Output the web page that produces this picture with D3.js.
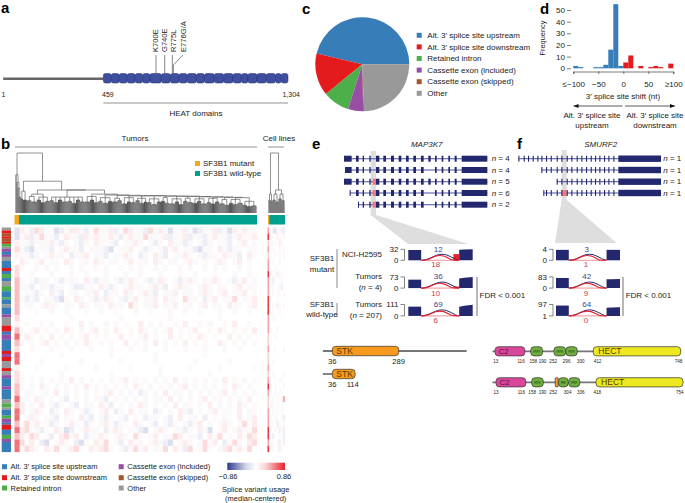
<!DOCTYPE html>
<html><head><meta charset="utf-8">
<script src="https://cdn.jsdelivr.net/npm/d3@7"></script>
<style>html,body{margin:0;padding:0;background:#fff}svg{display:block}text{font-family:"Liberation Sans",Arial,sans-serif;fill:#222}</style>
</head><body><svg id="c" width="685" height="503"></svg>
<script>
// ---------- data ----------
const heatDomainEnds=[496,532,569,605,639,672,725,766,806,843,885,922,967,1010,1053,1091,1121,1162,1205,1247,1273,1304];
const mutations=["K700E","G740E","R775L","E776G/A"];
const mutationPositions=[700,740,775,776];
const pieCategories=["Alt. 3′ splice site upstream","Alt. 3′ splice site downstream","Retained intron","Cassette exon (included)","Cassette exon (skipped)","Other"];
const pieValues=[46.3,14.6,9.2,5.2,0.3,24.4];
const catColors=["#377EB8","#E41A1C","#4DAF4A","#984EA3","#A65628","#999999"];
const shiftBlueBins=[-100,-90,-60,-50,-40,-30,-20,-10];
const shiftBlueCounts=[2,1,1,1,3,16,55,2];
const shiftRedBins=[0,10,30,50,60,70,90];
const shiftRedCounts=[5,11,2,1,2,1,4];
const shiftTicks=[-100,-50,0,50,100];
const shiftTickLabels=["≤−100","−50","0","50","≥100"];
const freqTicks=[0,10,20,30,40,50];
const rowCats=[5,3,1,3,4,3,1,2,4,3,1,2,2,3,5,2,3,3,0,3,3,2,5,4,0,7,1,3,0,3,2,4,0,3,5,5,2,5,0,6,2,2,0,5,5,3,0,7,3,3,5,8,1,6,0,3,3,5,0,11,1,3,3,3,1,4,5,7,1,3,5,4,3,3,0,8,3,3,0,10,5,4,2,4,5,2,0,6,2,3,3,4,0,2,1,5,0,5,2,4,3,3,0,10];
const heatRows=[
"r+bRr-+Bb+rr-b+R+-rb+Rr+-bR+r-B-+r-Bb-+rb-Br+r-+",
"+rb-R+-b+r+-br+r-+r-b+r-+R--+rb-+rb+-b+r+-b-r+-r",
"+-b+-+r-b+.-b+.r-+-b.+-r+.-b+.r-+b-.+b-.+-b.+r.-",
"-bB-+-b.+r-+b.-+-bB.+-r.+b-.-b+r.-+bB-+.r-b-+.-+",
"+-b-.+r+-.b-+r.-+b.-+r-.b+.r-b.+-r+.-b-+.r-+b.r+",
"r+.+r.-+.r+.+-.r+.-+.+r.+-.r+.+-.+r-.+.+r-.+r.+.",
"+..+.-.+..-.+..+.-..+.-.+..-.+..+.-..+.-.+..-.+.",
"..+...-...+..-...+...-..+...-...+..-...+...-..+.",
"+.-b-+.-b+-+.r-b+-.+b-r+.-b+r-.+b-r+.-+r+.-b+r.-",
"+-b.-+b-+.-bb-+.r-b+.-r+-.+r-b.+r-+.-r+.-+.+r.-+",
".-+b+.r-b.+-.+-r.b-+.r-.+r-b.+-r.+-.+r-.+r.-+r.+",
"+b-b.+-bB+.r-.+b-r+.-b+r.+-r.r-+.R-+.b+r.-+R.-+r",
".+-.+r-+.-+.r+.-+.r+-.R+.-+r.-+r.+-.+r.-+.r-+.+r",
"...+..-..+...+..-..+...-..+...+..-..+...+..-..+.",
"..........+.........-.........+.........-........",
".+..+.-..+..r.+..-.+.+..r.-.+..+.r..+.-..+.r..+.",
"+.+r.+.+.r+.-.+r.+.r..+.r+.-.+r.+.+r..+.r+.+.+.r",
".r+.+.r.+.+.+r.+.+..r.+.+r.+..r.+.+.r+.+..r.+.+.",
"+.+.+r.+.-.+.r+.+.+..r.+.-.r.+.+.r.+.+..r+.+.-.+",
"..+...+...+...-...+...+..-...+...+...+...-..+...",
"........+.........+........-.........+..........",
"....+.......-.......+......+.......-......+.....",
"...+.....+.....-......+.....+.....-.....+......+",
"........-.........+.........-.........+.........",
"+.+.-.+.+.r.-.+.+.-.+r.+.-.+.+.r.-.+.+.-.r.+.-.+",
"+.-.r+.-.+.-.r.+.-.+.-.r+.-.+.-.+r.-.+.-.+.r-.+.",
".-+.+-.r.-.+.-.+.-r.+.-.b+.-.r.-+.-.+.-.+r.-.+.-",
"+-.r-.+.-b.+.-.+-b.+.-.+.-.+-.r.-.+.-r.+-.+.-.r.",
"r.-.r.-b+.-b.+-.r-b.+.-.r-.+.-.r.-+.-.r.-.+.r-.+",
"r.-r+.b-.r-.+b-.+r.b-.r.-+.b-.+.r-b.+.-r.+-.r.-+",
".+r-.+-b.-+.r-b.-b+.-b.+.b-+.-b.r.+-.b.+.-+.r.-r",
"+R+r.+b-.+r-.b+.-r.b-+.r-.+b.-b+.-b+r.-.+r-.+R.r",
"rR+-b+.r-Bb.+r+-.b+r-.+-bB.+r-.+-b+.r-B.+r.+r-+R",
"r+Rr.+b.rR+r.b-+r+.+r-.R+.+r.-+Rr.+-b.r+R.+.r+Rr",
"R+r.bB.+r+.bB+.r+R.+b.r+-.+r-bB.+r+.-R+r.b+R+.rR",
"+Rr+.r+R.-rR+.r+rR+.+b-R+r.-+R.r+bR.+R+.-rR+r+R."
];
const mutantColumn="bb+r+.rrRRRRRRr+RSRrSS+rrRRSRSSRSRSS";
const cellStrip="RSrRrRRSRRRSSSRRRrrRrrRrRSRrrRRRSSRS";
const cellRows=[
"-bB-+bb","+-.r+.-","+-+.r+.",".+..+.+","+.+.-.+",".+..-..","..+....","-+.r-+.","+b-.+-.","+-.+-b.",
".+.-+.+","+..+...",".+.r+.+",".+..+..",".+-..+.",".......","+..+...","..-....",".......","..+...-",
".......",".+.....",".......",".+....+","-.+.-+.","+.-.+.-","+.-.+-.",".-.+.-S","-+.-.+.",".-.+.-.",
"+.-+.-b","+-.b+.-","-.+.r-b","+b.+-.b","-+.-b.r","+-.+r-."];
const heatLegendStops=[-0.86,-0.3,0,0.3,0.86];
const mutantTree=[0.63,1,[0.5,1,[0.4,1,[0.25,2]]]];
const earlyA=[0.35,[0.22,2],[0.2,4]];
const earlyC=[0.3,[0.26,[0.19,4],[0.17,5]],[0.25,[0.2,4],[0.16,4],[0.18,4]]];
const chainEntries=[
[0.37,0.25,[0.19,4],[0.16,4],[0.2,4],[0.17,5],[0.18,4],[0.15,4],[0.2,4],[0.17,4]],
[0.3,0.26,[0.17,5],[0.2,4],[0.16,4]],
[0.285,0.24,[0.18,4],[0.15,5],[0.18,4]],
[0.28,0.23,[0.17,5],[0.19,4]],
[0.27,0.24,[0.14,5],[0.17,4],[0.16,4]],
[0.275,0.23,[0.19,4],[0.15,4],[0.17,3]],
[0.27,0.22,[0.16,4],[0.13,5],[0.17,4]],
[0.265,0.24,[0.18,4],[0.15,4]],
[0.265,0.22,[0.14,5],[0.17,4],[0.13,4]],
[0.26,0.23,[0.18,4],[0.16,5]],
[0.255,0.22,[0.15,4],[0.18,4],[0.14,5]],
[0.25,0.23,[0.16,4],[0.14,4],[0.17,4]],
[0.245,0.21,[0.14,5],[0.12,4]],
[0.24,0.21,[0.15,4],[0.13,4],[0.15,5]],
[0.22,0.18,[0.12,4],[0.1,4],[0.11,5]]
];
const cellTree=[1.0,[0.3,[0.2,2],[0.18,2]],[0.37,[0.3,[0.2,3],[0.17,3]],[0.3,[0.22,3],[0.19,3]]]];
// MAP3K7 transcripts, exon ranges in genomic plot units
const mapExons=[
[[72,95],[108,116],[128,132],[148,152],[168,178],[190,198],[213,222],[236,244],[258,266],[280,288],[303,311],[325,332],[345,350],[365,370],[385,390],[404,410],[425,502]],
[[75,95],[108,116],[128,132],[148,152],[168,178],[190,198],[213,222],[236,244],[258,266],[280,288],[303,311],[345,350],[365,370],[385,390],[404,410],[425,502]],
[[72,95],[108,116],[128,132],[148,152],[168,178],[190,198],[213,222],[236,244],[258,266],[280,288],[303,311],[325,332],[345,350],[365,370],[385,390],[404,410],[425,502]],
[[89,92],[108,116],[128,132],[148,152],[168,178],[190,198],[213,222],[236,244],[258,266],[280,288],[303,311],[345,350],[365,370],[385,390],[404,410],[425,502]],
[[114,117],[128,132],[148,152],[168,178],[190,198],[213,222],[236,244],[258,266],[280,288],[303,311],[345,350],[365,370],[385,390],[404,410],[425,502]]];
const mapLabels=["n = 4","n = 4","n = 5","n = 6","n = 2"];
const smurfExonStarts=[55,71,84,98,112,124,138,152,170,184,200,214,230,244,258,272,285,298,312,325,340];
const smurfTranscriptStart=[55,124,170,130];
const smurfBigExon=[355,483];
const smurfLabels=["n = 1","n = 1","n = 1","n = 1"];
const mapSashimi=[
{top:"32",bot:"0",max:32,left:30,right:[31,32],extra:18,up:"12",down:"18"},
{top:"73",bot:"0",max:73,left:55,right:[62,72],extra:10,up:"36",down:"10"},
{top:"111",bot:"0",max:111,left:90,right:[88,108],extra:5,up:"69",down:"6"}];
const smurfSashimi=[
{top:"4",bot:"0",max:4,left:3.8,right:[3.8,3.8],extra:0,up:"3",down:"1"},
{top:"83",bot:"0",max:83,left:75,right:[65,68],extra:0,up:"42",down:"9"},
{top:"97",bot:"1",max:97,left:88,right:[70,74],extra:0,up:"64",down:"0"}];
const stkRows=[{line:[0,548],dom:[[36,289,"STK"]],labels:[["36",36],["289",289]]},
{line:[0,36],dom:[[36,123,"STK"]],labels:[["36",36],["114",114]]}];
const smurfRow1={dom:[[13,131,"C2"],[154,201,"WW"],[246,292,"WW"],[293,338,"WW"],[401,747,"HECT"]],labels:[["13",16],["116",116],["158",164],["190",201],["252",243],["296",296],["330",352],["412",418],["748",738]]};
const smurfRow2={dom:[[17,135,"C2"],[158,204,"WW"],[251,263,"x"],[264,302,"WW"],[304,348,"WW"],[412,756,"HECT"]],labels:[["13",17],["116",117],["158",160],["190",201],["252",243],["304",300],["336",352],["418",417],["754",743]]};

// ---------- drawing ----------
const svg=d3.select("#c");
const F="Liberation Sans";
function T(x,y,s,o={}){const t=svg.append("text").attr("x",x).attr("y",y).attr("font-size",o.size||8).attr("text-anchor",o.anchor||"start").text(s);
 if(o.weight)t.attr("font-weight",o.weight);if(o.fill)t.style("fill",o.fill);if(o.italic)t.attr("font-style","italic");if(o.rot!=null)t.attr("transform",`rotate(${o.rot},${x},${y})`);return t;}
function L(x1,y1,x2,y2,c="#555",w=0.8){svg.append("line").attr("x1",x1).attr("y1",y1).attr("x2",x2).attr("y2",y2).attr("stroke",c).attr("stroke-width",w);}
function Box(x,y,w,h,c){svg.append("rect").attr("x",x).attr("y",y).attr("width",w).attr("height",h).attr("fill",c);}
[["a",1,13],["b",1,149],["c",302,14],["d",540,14],["e",312,149],["f",517,149]].forEach(d=>T(d[1],d[2],d[0],{size:15,weight:"bold",fill:"#000"}));

// panel a
const aaX=d3.scaleLinear().domain([459,1304]).range([103.3,288]);
L(aaX(1),78.7,aaX(459),78.7,"#666",2.6);
let prev=459;heatDomainEnds.forEach(e=>{svg.append("rect").attr("x",aaX(prev)).attr("y",73.5).attr("width",aaX(e)-aaX(prev)).attr("height",9.5).attr("rx",2.2).attr("fill","#3F4FA0").attr("stroke","#232a6b").attr("stroke-width",.5);prev=e;});
mutations.forEach((m,i)=>{const x=aaX(mutationPositions[i]);
 if(i<3)L(x,55,x,73.5,"#555",.7);
 else{const g=x+.8;L(g,73.5,g,65,"#555",.7);L(g,65,183,55,"#555",.7);}
 const lx=[155.5,164.5,173.5,183.5][i]+2.7;
 T(lx,52,m,{rot:-90,size:7.6});});
T(1.5,97,"1",{size:7});T(102,97,"459",{size:7});T(300,97,"1,304",{size:7,anchor:"end"});
L(aaX(459),103,aaX(1304),103,"#777",.8);
T(196,116,"HEAT domains",{anchor:"middle"});

// panel b headers
T(135,141,"Tumors",{anchor:"middle"});L(15,147,257,147,"#888",.9);
T(279,141,"Cell lines",{anchor:"middle"});L(268,147,284,147,"#888",.9);
// dendrogram
const asNode=a=>{
 if(typeof a==="number")return {h:0,leaf:a===1,children:a===1?null:Array.from({length:a},()=>({h:0}))};
 if(a.length===2&&typeof a[1]==="number"&&a[1]>1&&Number.isInteger(a[1]))return {h:a[0],children:Array.from({length:a[1]},()=>({h:0}))};
 return {h:a[0],children:a.slice(1).map(asNode)};};
let rest=null;
for(let i=chainEntries.length-1;i>=0;i--){const e=chainEntries[i];
 const cl={h:e[1],children:e.slice(2).map(asNode)};
 rest=rest?{h:e[0],children:[cl,rest]}:cl;}
const tumorTree={h:1.0,children:[asNode(mutantTree),{h:0.52,children:[asNode(earlyA),{h:0.37,children:[asNode(earlyC),rest]}]}]};
const yH=d3.scaleLinear().domain([0,0.2,1]).range([213,200,153]);
function drawTree(tree,x0,x1){const root=d3.hierarchy(tree);d3.cluster().separation(()=>1).size([x1-x0,1])(root);
 const g=svg.append("g").attr("transform",`translate(${x0},0)`);
 let leaves="";let links="";
 root.descendants().forEach(n=>{if(!n.children)return;const y=yH(n.data.h);const xs=n.children.map(c=>c.x);
  links+=`M${d3.min(xs)},${y}H${d3.max(xs)}`;
  n.children.forEach(c=>{const p=`M${c.x},${y}V${yH(c.data.h)}`;if(c.children)links+=p;else leaves+=p;});});
 g.append("path").attr("d",leaves).attr("stroke","#4a4a4a").attr("stroke-width",.95).attr("fill","none");
 g.append("path").attr("d",links).attr("stroke","#555").attr("stroke-width",.65).attr("fill","none");}
drawTree(tumorTree,15.5,256.5);drawTree(asNode(cellTree),268.5,284.5);
// sample bars
Box(14.5,215,4.5,9.5,"#F5A623");Box(19,215,238,9.5,"#00A08F");Box(268,215,1.2,9.5,"#F5A623");Box(269.2,215,15.8,9.5,"#00A08F");
Box(195,161,5,5,"#F5A623");T(203,166,"SF3B1 mutant");Box(195,171,5,5,"#00A08F");T(203,176,"SF3B1 wild-type");
// heat
const heatColor=d3.scaleLinear().domain([-0.86,0,0.86]).range(["#2B3990","#ffffff","#E8202A"]).clamp(true);
const cellVal={".":0,"+":0.025,"r":0.07,"R":0.14,"S":0.3,"-":-0.025,"b":-0.07,"B":-0.14};
const yRow=d3.scaleBand().domain(d3.range(heatRows.length)).range([227.5,452]);
const xCol=d3.scaleBand().domain(d3.range(heatRows[0].length)).range([19.5,257]);
const gh=svg.append("g");
function cells(rows,xs,k=1){rows.forEach((r,i)=>{Array.from(r).forEach((c,j)=>{const v=cellVal[c];if(!v)return;
 gh.append("rect").attr("x",xs(j)).attr("y",yRow(i)).attr("width",xs.bandwidth()+.1).attr("height",yRow.bandwidth()+.1).attr("fill",heatColor(v*k));});});}
cells(heatRows,xCol);
cells(Array.from(mutantColumn),d3.scaleBand().domain([0]).range([14.5,19.5]),1.8);
cells(Array.from(cellStrip),d3.scaleBand().domain([0]).range([267.5,269]),2.6);
cells(cellRows,d3.scaleBand().domain(d3.range(cellRows[0].length)).range([270,285]));
// row annotations
const total=d3.sum(rowCats.filter((d,i)=>i%2));
const yAnn=d3.scaleLinear().domain([0,total]).range([227.5,452]);
let acc=0;for(let i=0;i<rowCats.length;i+=2){const c=rowCats[i],n=rowCats[i+1];
 svg.append("rect").attr("x",1.7).attr("width",9.3).attr("y",yAnn(acc)).attr("height",yAnn(n)-yAnn(0)+.1).attr("fill",catColors[c]);acc+=n;}
// legends bottom
[[0,2,466.7],[1,2,477.7],[2,2,488],[3,118.7,466.7],[4,118.7,477.7],[5,118.7,488]].forEach(d=>{Box(d[1],d[2]-2.5,5,5,catColors[d[0]]);T(d[1]+8.6,d[2]+2.6,pieCategories[d[0]],{size:7.5});});
const grad=svg.append("defs").append("linearGradient").attr("id","hg");
heatLegendStops.forEach(v=>grad.append("stop").attr("offset",(v+0.86)/1.72).attr("stop-color",v===-0.3||v===0.3?heatColor(v*0.6):heatColor(v)));
Box(227.3,462.7,57.7,7.3,"url(#hg)");
T(228,479,"−0.86",{anchor:"middle",size:7.5});T(284,479,"0.86",{anchor:"middle",size:7.5});
T(255.7,492,"Splice variant usage",{anchor:"middle",size:7.5});T(255.7,501,"(median-centered)",{anchor:"middle",size:7.5});

// panel c
const pie=d3.pie().sort(null).startAngle(Math.PI/2).endAngle(Math.PI/2-2*Math.PI);
const arc=d3.arc().innerRadius(0).outerRadius(47);
const gp=svg.append("g").attr("transform","translate(362.3,64.3)");
gp.selectAll("path").data(pie(pieValues)).join("path").attr("d",arc).attr("fill",(d,i)=>catColors[i]);
pieCategories.forEach((c,i)=>{const y=35.3+i*11.6;Box(416.7,y-2.5,5,5,catColors[i]);T(427.3,y+2.7,c);});

// panel d
const xS=d3.scaleLinear().domain([-100,100]).range([573.3,673.3]);
const yF=d3.scaleLinear().domain([0,50]).range([68.3,10]);
const bw=xS(10)-xS(0);
shiftBlueBins.forEach((b,i)=>Box(xS(b),yF(shiftBlueCounts[i]),bw,yF(0)-yF(shiftBlueCounts[i]),"#377EB8"));
shiftRedBins.forEach((b,i)=>Box(xS(b),yF(shiftRedCounts[i]),bw,yF(0)-yF(shiftRedCounts[i]),"#E41A1C"));
const ax=svg.append("g").attr("transform","translate(0,71.5)").call(d3.axisBottom(xS).tickValues(shiftTicks).tickFormat((d,i)=>shiftTickLabels[i]).tickSize(2.5).tickPadding(7));
const ay=svg.append("g").attr("transform","translate(571,0)").call(d3.axisLeft(yF).tickValues(freqTicks).tickSize(4).tickPadding(2));
ay.select(".domain").remove();
[ax,ay].forEach(g=>{g.selectAll("text").attr("font-size",8).style("font-family",F);g.selectAll("line,path").attr("stroke","#444").attr("stroke-width",.7);});
T(545,38,"Frequency",{rot:-90,anchor:"middle",size:7.4});
T(623,99,"3′ splice site shift (nt)",{anchor:"middle"});
function arrow(x1,x2,y){L(x1,y,x2,y,"#111",.7);const d=x2>x1?1:-1;svg.append("path").attr("d",`M${x2},${y}l${-d*5},-2v4z`).attr("fill","#111");}
arrow(622.5,573.5,106);arrow(625,675,106);
T(592,118,"Alt. 3′ splice site",{anchor:"middle"});T(592,128,"upstream",{anchor:"middle"});
T(655,118,"Alt. 3′ splice site",{anchor:"middle"});T(655,128,"downstream",{anchor:"middle"});

// panel e / f gene models
const xMap=d3.scaleLinear().domain([0,540]).range([320,500]);
const xSm=d3.scaleLinear().domain([0,555]).range([500,685]);
const funnel=d3.line();
svg.append("path").attr("d",funnel([[xMap(152),151],[xMap(168),151],[xMap(168),215],[468.5,244],[408,244],[xMap(152),215]])+"Z").attr("fill","#DEDEDE");
svg.append("path").attr("d",funnel([[xSm(185),150],[xSm(200),150],[xSm(200),200],[616.7,243],[555,243],[xSm(185),200]])+"Z").attr("fill","#DEDEDE");
T(426.7,147,"MAP3K7",{anchor:"middle",italic:true});T(600.7,147,"SMURF2",{anchor:"middle",italic:true});
const tY=[158.7,170,181.7,193,204.7];
const navy="#23276E";
mapExons.forEach((ex,i)=>{const y=tY[i];L(xMap(ex[0][0]),y,xMap(502),y,"#4B50A0",1.1);
 if(i>=2)Box(xMap(158),y-3,xMap(168)-xMap(158),6,"#F4787C");
 ex.forEach(e=>Box(xMap(e[0]),y-3,xMap(e[1])-xMap(e[0]),6,navy));
 T(491.7,y+2.6,mapLabels[i]).call(t=>{t.text(null);t.append("tspan").attr("font-style","italic").text("n");t.append("tspan").text(" = "+mapLabels[i].slice(4));});});
smurfTranscriptStart.forEach((s,i)=>{const y=tY[i];L(xSm(s),y,xSm(483),y,"#4B50A0",1);
 if(i==3)Box(xSm(186),y-3,xSm(200)-xSm(186),6,"#F4787C");
 smurfExonStarts.filter(e=>e>=s).forEach(e=>Box(xSm(e),y-3,xSm(e+3.3)-xSm(e),6,navy));
 if(i==3)Box(xSm(130),y-3,1,6,navy);
 Box(xSm(smurfBigExon[0]),y-3.2,xSm(smurfBigExon[1])-xSm(smurfBigExon[0]),6.4,navy);
 T(663.3,y+2.6,"").call(t=>{t.append("tspan").attr("font-style","italic").text("n");t.append("tspan").text(" = "+smurfLabels[i].slice(4));});});

// sashimi
const rowBands=[[249.3,260.3],[276.9,288.1],[304.5,315.9]];
const upY=[251.7,279.3,307],downY=[267.3,296,323.3];
function sashimi(rows,x0,x1,brX,midUp,midDown){
 const xp=d3.scaleLinear().domain([0,100]).range([x0,x1]);
 rows.forEach((r,i)=>{const [t,b]=rowBands[i];const y=d3.scaleLinear().domain([0,r.max]).range([b,t]);
  Box(xp(0),y(r.left),xp(20)-xp(0),b-y(r.left),navy);
  svg.append("path").attr("d",d3.area().x(d=>xp(d[0])).y1(d=>y(d[1])).y0(b)([[79,r.right[0]],[87,(r.right[0]+r.right[1])/2],[100,r.right[1]]])).attr("fill",navy);
  if(r.extra)Box(xp(70),y(r.extra),xp(79)-xp(70),b-y(r.extra),"#E8202A");
  const curve=d3.line().x(d=>xp(d[0])).y(d=>d[1]).curve(d3.curveBasis);
  svg.append("path").attr("d",curve([[20,b],[20,b],[32,b-1],[45,b-6.2],[60,b-6.2],[72,b-1],[79,b],[79,b]])).attr("fill","none").attr("stroke",navy).attr("stroke-width",1);
  svg.append("path").attr("d",curve([[20,b],[20,b],[30,b],[42,b-5],[55,b-5],[66,b-.5],[72,b],[79,b]])).attr("fill","none").attr("stroke","#E8202A").attr("stroke-width",1.1);
  L(xp(20),b,xp(79),b,"#E8202A",.5);
  T(brX-2,t+2.8,r.top,{anchor:"end"});T(brX-2,b+2.8,r.bot,{anchor:"end"});
  svg.append("path").attr("d",`M${brX},${t}H${brX+4}V${b}H${brX}`).attr("fill","none").attr("stroke","#333").attr("stroke-width",.6);
  T(midUp,upY[i],r.up,{anchor:"middle",fill:"#3A3F8F"});T(midDown,downY[i],r.down,{anchor:"middle",fill:"#D23A45"});
 });}
sashimi(mapSashimi,408.3,472.7,400.5,438.3,435.7);
sashimi(smurfSashimi,556,620,549,586.7,586);
L(477,277,477,316,"#333",.7);T(479.5,298,"FDR < 0.001");
L(623,277,623,316,"#333",.7);T(625.7,298,"FDR < 0.001");
// left labels e
T(322,261,"SF3B1",{anchor:"middle"});T(322,271.5,"mutant",{anchor:"middle"});
T(322,306.5,"SF3B1",{anchor:"middle"});T(322,317,"wild-type",{anchor:"middle"});
L(337,249,337,288,"#555",.7);L(337,303,337,317,"#555",.7);
T(342,257,"NCI-H2595");T(382,279,"Tumors",{anchor:"end"});
T(382,289.5,"",{anchor:"end"}).call(t=>{t.append("tspan").text("(");t.append("tspan").attr("font-style","italic").text("n");t.append("tspan").text(" = 4)");});
T(382,307,"Tumors",{anchor:"end"});
T(382,318,"",{anchor:"end"}).call(t=>{t.append("tspan").text("(");t.append("tspan").attr("font-style","italic").text("n");t.append("tspan").text(" = 207)");});

// protein domains
const domColor={STK:"#F79A1E",C2:"#D9479B",WW:"#6FAE3F",HECT:"#EDE81F",x:"#F79A1E"};
const xStk=d3.scaleLinear().domain([36,289]).range([332.3,398.7]);
function dom(xs,d,y,h){svg.append("rect").attr("x",xs(d[0])).attr("y",y-h/2).attr("width",xs(d[1])-xs(d[0])).attr("height",h).attr("rx",d[2]==="x"?1:3.5).attr("fill",domColor[d[2]]).attr("stroke","#333").attr("stroke-width",.7);
 if(d[2]==="WW")svg.append("path").attr("d",(()=>{const x=d3.scaleLinear().domain([0,8]).range([xs(d[0])+2.5,xs(d[1])-2.5]);let p="";for(let i=0;i<=8;i++)p+=(i?"L":"M")+x(i)+","+(y+(i%2?-1.2:1.2));return p;})()).attr("fill","none").attr("stroke","#2e5d1e").attr("stroke-width",.5);
 else if(d[2]!=="x"){T(xs(d[0])+(d[2]==="STK"?4:d[2]==="HECT"?5:3.5),y+3,d[2],{size:d[2]==="STK"||d[2]==="HECT"?8.6:8,fill:d[2]==="C2"?"#5a1040":"#5a3a00"});}}
[351,374].forEach((y,i)=>{const r=stkRows[i];L(xStk(r.line[0]),y,xStk(r.line[1]),y,"#777",1.8);
 r.dom.forEach(d=>dom(xStk,d,y,9.4));
 r.labels.forEach(l=>T(xStk(l[1]),i?386.7:363.5,l[0],{anchor:"middle",size:7.6}));});
const xSm2=d3.scaleLinear().domain([13,748]).range([320+525/3,320+1083/3]);
[[smurfRow1,351.3,363],[smurfRow2,382.3,394.3]].forEach(([r,y,ly])=>{
 L(xSm2(3),y,xSm2(748),y,"#777",1.8);
 r.dom.forEach(d=>dom(xSm2,d,y,9.2));
 r.labels.forEach(l=>T(xSm2(l[1]),ly,l[0],{anchor:"middle",size:4.6}));});
</script></body></html>
